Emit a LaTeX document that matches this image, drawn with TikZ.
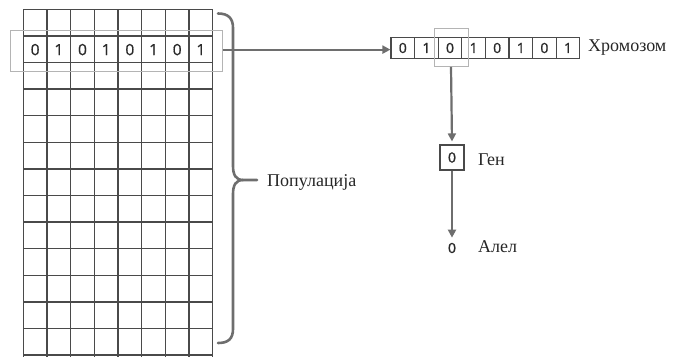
\documentclass[tikz,border=0pt]{standalone}
\usepackage{fontspec}
\setmainfont{Liberation Serif}
\newfontfamily\digitfont[FakeBold=0.8]{Open Sans}
\usetikzlibrary{arrows.meta}
\definecolor{gridgray}{HTML}{4A4A4A}
\definecolor{arrowgray}{HTML}{6E6E6E}
\definecolor{selgray}{HTML}{B4B4B4}
\definecolor{inkgray}{HTML}{2A2A2A}
\tikzset{
  gridline/.style={draw=gridgray, line width=1.4pt},
  bit/.style={font=\digitfont\fontsize{15.5}{17}\selectfont, text=inkgray, inner sep=0pt},
  smallbit/.style={font=\digitfont\fontsize{14}{16}\selectfont, text=inkgray, inner sep=0pt},
  cell/.style={smallbit, draw=gridgray, line width=1.1pt, minimum width=23.6pt, minimum height=21pt},
  selbox/.style={draw=selgray, line width=0.9pt, inner sep=0pt},
  flow/.style={draw=arrowgray, line width=2.2pt, -{Triangle[length=8pt,width=8pt]}},
  bracket/.style={draw=arrowgray, line width=2.6pt, line cap=round},
  tag/.style={font=\fontsize{18}{21}\selectfont, text=black!85, anchor=west, inner sep=0pt},
}
\begin{document}
\begin{tikzpicture}[x=1pt,y=-1pt]
\useasboundingbox (0,0) rectangle (676,356);
% population: 8 columns x 13 rows
\foreach \i in {0,...,8}
  \draw[gridline] ({23.3+\i*23.675},9.3) -- ({23.3+\i*23.675},357);
\foreach \j in {0,...,13}
  \draw[gridline] (23.3,{9.3+\j*26.6}) -- (212.7,{9.3+\j*26.6});
% one chromosome inside the population
\foreach \b [count=\k] in {0,1,0,1,0,1,0,1}
  \node[bit] (g\k) at ({23.3+(\k-0.5)*23.675},49.6) {\b};
\node[selbox, minimum width=212pt, minimum height=41.7pt] (rowsel) at (116.7,50.8) {};
% brace around the population
\draw[bracket] (218,13.5) .. controls (228,13.5) and (233,18) .. (233,28)
  -- (233,166) .. controls (233,175) and (236,180) .. (243,180) -- (257,180);
\draw[bracket] (243,180) .. controls (236,180) and (233,185) .. (233,194)
  -- (233,329) .. controls (233,339) and (228,343) .. (218,343);
\node[tag] (poplabel) at (267,182) {Популација};
% chromosome
\foreach \b [count=\k] in {0,1,0,1,0,1,0,1}
  \node[cell] (c\k) at ({391+11.8+(\k-1)*23.6},48) {\b};
\node[selbox, minimum width=34pt, minimum height=38pt] (gensel) at (451,47.5) {};
\node[tag] (chromlabel) at (588,48) {Хромозом};
% gene and allele
\node[smallbit, draw=gridgray, line width=1.1pt, minimum width=24pt, minimum height=25pt] (gene) at (452,157.5) {0};
\node[tag] (genelabel) at (478,160) {Ген};
\node[smallbit] (allele) at (452,248) {0};
\node[tag] (allelelabel) at (478,247) {Алел};
% connectors
\draw[flow] (rowsel.east |- g8) -- (c1.west |- g8);
\draw[flow] (gensel.south) -- ([yshift=3pt]gene.north);
\draw[flow] (gene.south) -- ([yshift=5pt]allele.north);
\end{tikzpicture}
\end{document}
